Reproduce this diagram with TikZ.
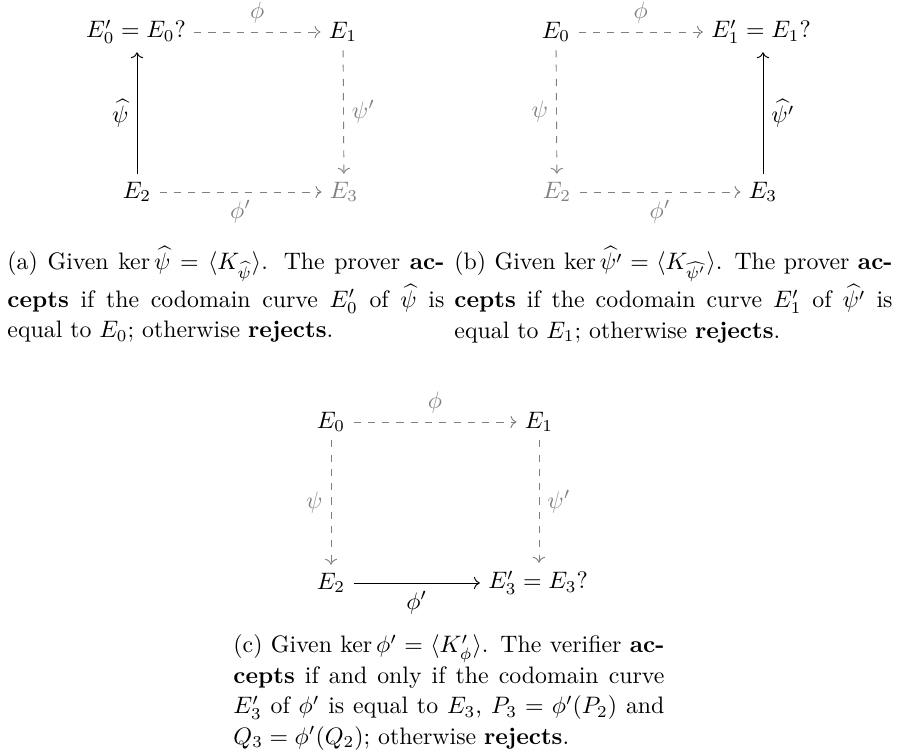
\documentclass[tikz,border=0pt]{standalone}
\usepackage{amsmath}
\usetikzlibrary{arrows.meta}
\begin{document}
\begin{tikzpicture}[x=0.42pt,y=-0.42pt,
  obj/.style={inner sep=3.33pt},
  grayobj/.style={obj,text=gray},
  dasharrow/.style={draw=gray,dashed,-{To}},
  solidarrow/.style={draw=black,-{To}},
  glabel/.style={text=gray,inner sep=3.33pt},
  blabel/.style={text=black,inner sep=3.33pt},
  captionbox/.style={inner sep=0pt,align=justify,anchor=base west,
    font=\fontsize{10}{12.8}\selectfont}]
\useasboundingbox (0,0) rectangle (898,755);
% ---- panel (a)
\node[obj] (a0) at (136,32) {$E_0' = E_0?$};
\node[obj] (a1) at (343,32) {$E_1$};
\node[obj] (a2) at (137,192) {$E_2$};
\node[grayobj] (a3) at (344,192) {$E_3$};
\draw[dasharrow] (a0) -- node[midway,above,glabel] {$\phi$} (a1);
\draw[dasharrow] (a1) -- node[midway,right,glabel] {$\psi'$} (a3);
\draw[dasharrow] (a2) -- node[midway,below,glabel] {$\phi'$} (a3);
\draw[solidarrow] (a2.north) -- node[midway,left,blabel] {$\widehat{\psi}$} (a2.north |- a0.south);
% ---- panel (b)
\node[obj] (b0) at (556,32) {$E_0$};
\node[obj] (b1) at (761,32) {$E_1' = E_1?$};
\node[grayobj] (b2) at (557,192) {$E_2$};
\node[obj] (b3) at (763,192) {$E_3$};
\draw[dasharrow] (b0) -- node[midway,above,glabel] {$\phi$} (b1);
\draw[dasharrow] (b0) -- node[midway,left,glabel] {$\psi$} (b2);
\draw[dasharrow] (b2) -- node[midway,below,glabel] {$\phi'$} (b3);
\draw[solidarrow] (b3.north) -- node[midway,right,blabel] {$\widehat{\psi'}$} (b3.north |- b1.south);
% ---- panel (c)
\node[obj] (c0) at (331,422) {$E_0$};
\node[obj] (c1) at (539,422) {$E_1$};
\node[obj] (c2) at (331,583) {$E_2$};
\node[obj] (c3) at (538,583) {$E_3' = E_3?$};
\draw[dasharrow] (c0) -- node[midway,above,glabel] {$\phi$} (c1);
\draw[dasharrow] (c0) -- node[midway,left,glabel] {$\psi$} (c2);
\draw[dasharrow] (c1) -- node[midway,right,glabel] {$\psi'$} (c1 |- c3.north);
\draw[solidarrow] (c2) -- node[midway,below,blabel] {$\phi'$} (c3);
% ---- captions
\node[captionbox,text width=183.5pt] (capa) at (7,270) {(a) Given $\ker\widehat{\psi} = \langle K_{\widehat{\psi}}\rangle$. The prover \textbf{ac-}\linebreak \textbf{cepts} if the codomain curve $E_0'$ of $\widehat{\psi}$ is\linebreak equal to $E_0$; otherwise \textbf{rejects}.};
\node[captionbox,text width=184pt] (capb) at (454,270) {(b) Given $\ker\widehat{\psi'} = \langle K_{\widehat{\psi'}}\rangle$. The prover \textbf{ac-}\linebreak \textbf{cepts} if the codomain curve $E_1'$ of $\widehat{\psi'}$ is\linebreak equal to $E_1$; otherwise \textbf{rejects}.};
\node[captionbox,text width=181pt] (capc) at (233,653) {(c) Given $\ker\phi' = \langle K'_\phi\rangle$. The verifier \textbf{ac-}\linebreak \textbf{cepts} if and only if the codomain curve\linebreak $E_3'$ of $\phi'$ is equal to $E_3$, $P_3 = \phi'(P_2)$ and\linebreak $Q_3 = \phi'(Q_2)$; otherwise \textbf{rejects}.};
\end{tikzpicture}
\end{document}
